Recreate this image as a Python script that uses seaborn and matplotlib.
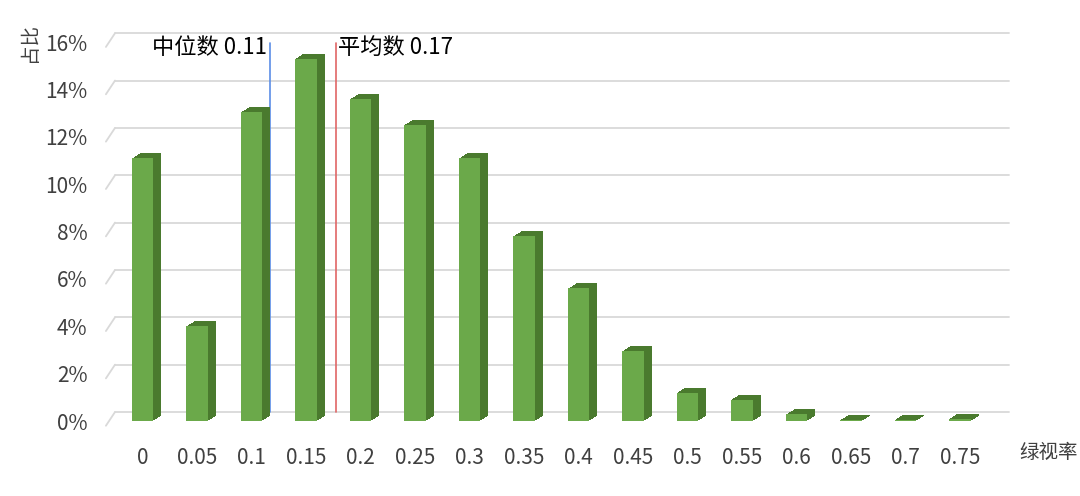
import matplotlib
matplotlib.use("Agg")
import matplotlib.pyplot as plt
import matplotlib.transforms as mtransforms
from matplotlib.patches import Rectangle
import seaborn as sns
import pandas as pd

# dados
categorias = ["0", "0.05", "0.1", "0.15", "0.2", "0.25", "0.3", "0.35",
              "0.4", "0.45", "0.5", "0.55", "0.6", "0.65", "0.7", "0.75"]
proporcao = [11.1, 4.0, 13.05, 15.3, 13.6, 12.5, 11.1, 7.8,
             5.6, 2.95, 1.2, 0.9, 0.28, 0.04, 0.06, 0.09]
y_ticks = [0, 2, 4, 6, 8, 10, 12, 14, 16]
mediana = 0.11
media = 0.17
passo = 0.05

df = pd.DataFrame({"categoria": categorias, "proporcao": proporcao})

sns.set_theme(style="white")
plt.rcParams["font.family"] = ["Noto Sans CJK SC", "DejaVu Sans"]

fig = plt.figure(figsize=(10.8, 4.96), dpi=100)
ax = fig.add_axes([107 / 1080, 75 / 496, 902 / 1080, 393 / 496])

verde = "#6BA94A"
verde_escuro = "#4A7A2E"
cinza = "#D9D9D9"

sns.barplot(data=df, x="categoria", y="proporcao", color=verde, width=0.39,
            saturation=1, ax=ax, zorder=5)

# efeito 3D: copias deslocadas atras de cada barra
frentes = list(ax.patches)
n_passos = 8
for p in frentes:
    p.set_edgecolor("none")
    for i in range(n_passos, 0, -1):
        off = mtransforms.ScaledTranslation(i / 100, (i * 5 / n_passos) / 100,
                                            fig.dpi_scale_trans)
        r = Rectangle((p.get_x(), p.get_y()), p.get_width(), p.get_height(),
                      facecolor=verde_escuro, edgecolor="none",
                      transform=ax.transData + off, zorder=4, clip_on=False)
        ax.add_patch(r)

# grade no plano de tras
fundo = mtransforms.ScaledTranslation(8 / 100, 9 / 100, fig.dpi_scale_trans)
x_esq, x_dir = -0.65, 15.9
for t in y_ticks:
    ax.plot([x_esq, x_dir - 0.15], [t, t], color=cinza, lw=1.3,
            transform=ax.transData + fundo, zorder=1, clip_on=False)
    ax.plot([x_esq - 0.02, x_esq + 0.147], [t - 0.2, t + 0.38], color=cinza,
            lw=1.3, zorder=1, clip_on=False)

# linhas de mediana e media
pos_med = mediana / passo
pos_media = media / passo
ax.plot([pos_med, pos_med], [0, 15.6], color="#5B8EE6", lw=1.2,
        transform=ax.transData + fundo, zorder=3)
ax.plot([pos_media, pos_media], [0, 15.6], color="#E06666", lw=1.2,
        transform=ax.transData + fundo, zorder=3)
ax.text(pos_med - 0.06, 15.4, f"中位数 {mediana}", ha="right", va="center",
        fontsize=16, color="black", transform=ax.transData + fundo)
ax.text(pos_media + 0.04, 15.4, f"平均数 {media}", ha="left", va="center",
        fontsize=16, color="black", transform=ax.transData + fundo)

ax.set_xlim(x_esq, x_dir)
ax.set_ylim(0, 16.6)
ax.set_yticks(y_ticks)
ax.set_yticklabels([f"{t}%" for t in y_ticks], fontsize=15, color="#404040")
ax.set_xticks(range(len(categorias)))
ax.set_xticklabels(categorias, fontsize=15, color="#404040")
ax.tick_params(axis="x", pad=19, length=0)
ax.tick_params(axis="y", pad=14, length=0)
ax.set_xlabel("")
ax.set_ylabel("")
sns.despine(ax=ax, left=True, bottom=True)

fig.text(29 / 1080, 1 - 42 / 496, "占比", rotation=90, ha="center", va="center",
         fontsize=14, color="#404040")
fig.text(1019 / 1080, 1 - 452 / 496, "绿视率", ha="left", va="center",
         fontsize=14, color="#404040")

fig.savefig("out.png", dpi=100)
